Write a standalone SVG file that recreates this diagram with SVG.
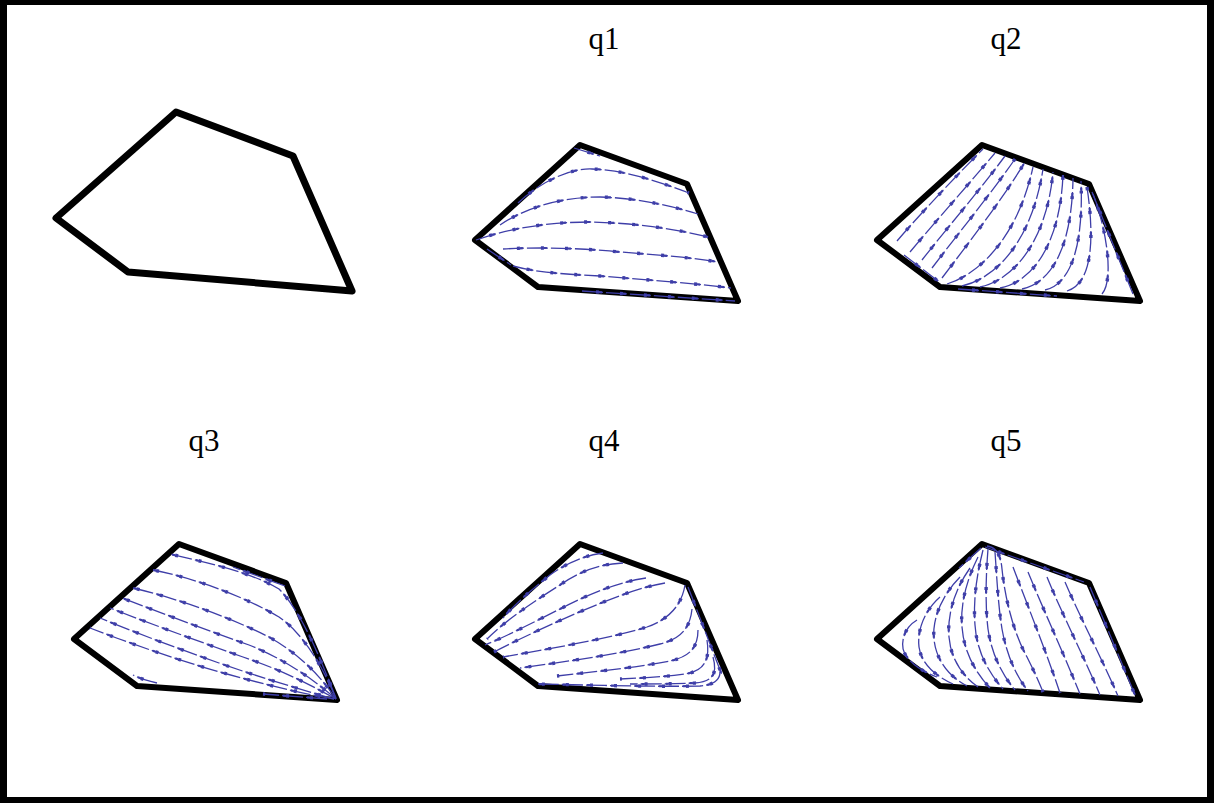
<svg xmlns="http://www.w3.org/2000/svg" width="1214" height="803" viewBox="0 0 1214 803">
<style>
.frame{fill:#000}
.bg{fill:#fff}
.poly{fill:#fff;stroke:#000;stroke-width:6;stroke-linejoin:round}
.poly0{fill:#fff;stroke:#000;stroke-width:7;stroke-linejoin:round}
.sl{fill:none;stroke:#3e3ea8;stroke-width:1.3;stroke-dasharray:21 3}
.a1{fill:none;stroke:#3e3ea8;stroke-width:3.4;stroke-dasharray:3 21;stroke-dashoffset:-14}
.a2{fill:none;stroke:#3e3ea8;stroke-width:2.2;stroke-dasharray:3 21;stroke-dashoffset:-17}
.lbl{font-family:"Liberation Serif","Times New Roman",serif;font-size:31px;fill:#000;text-anchor:middle}
</style>
<defs>
<polygon id="shape" class="poly" points="580,145 687,184 738,301 538,287 475,240"/>
<g id="f1">
<path d="M574,148 L600,156"/>
<path d="M518,203 C540,182 570,168 592,169 C625,170 660,182 689,193"/>
<path d="M500,225 C525,208 560,197 600,197 C640,198 675,207 698,214"/>
<path d="M476,240 C510,228 550,222 590,222 C640,223 680,230 708,237"/>
<path d="M503,249 C540,247 580,248 620,252 C660,255 695,258 718,262"/>
<path d="M513,266 C535,272 560,274 600,276 C650,280 700,284 731,288"/>
<path d="M582,291 L735,301"/>
<path d="M487,249 L511,265"/>
</g>
<g id="f2">
<path d="M495,241 C520,212 555,175 581,149"/>
<path d="M508,252 C533,222 566,185 593,153"/>
<path d="M520,260 C545,228 578,190 603,156"/>
<path d="M530,268 C555,235 588,195 613,159"/>
<path d="M540,278 C565,245 600,200 623,162"/>
<path d="M545,284 C575,275 615,240 631,167"/>
<path d="M560,286 C595,278 630,240 641,169"/>
<path d="M578,287 C612,280 645,240 651,172"/>
<path d="M598,288 C630,282 658,245 661,175"/>
<path d="M620,289 C648,283 670,250 671,178"/>
<path d="M643,290 C665,285 682,255 679,181"/>
<path d="M665,291 C685,285 695,255 685,187"/>
<path d="M700,294 C712,280 705,230 691,194"/>
<path d="M731,294 L690,192"/>
<path d="M556,289 L655,296"/>
<path d="M502,255 L536,281"/>
</g>
<g id="f3">
<path d="M737,299 C725,270 705,215 680,190 C650,172 600,162 571,155"/>
<path d="M737,300 C725,270 705,235 680,218 C650,200 600,180 554,171"/>
<path d="M737,300 C720,275 700,255 670,238 C630,218 580,200 534,189"/>
<path d="M737,300 C720,285 690,262 650,246 C610,232 565,215 523,199"/>
<path d="M737,300 C710,285 680,270 644,258 C610,246 560,228 511,209"/>
<path d="M735,300 C700,290 660,278 620,264 C580,250 540,235 501,219"/>
<path d="M735,300 C700,294 660,284 628,275 C595,266 540,248 491,229"/>
<path d="M558,284 C550,282 542,280 534,276"/>
<path d="M728,300 L664,295"/>
<path d="M686,187 L634,168"/>
</g>
<g id="f4">
<path d="M603,154 C585,156 565,165 550,176 C530,192 515,205 503,219"/>
<path d="M623,164 C600,165 580,172 560,186 C530,205 505,222 487,240"/>
<path d="M646,179 C620,183 595,192 560,210 C530,225 505,238 485,246"/>
<path d="M665,184 C640,188 610,200 577,214 C545,228 515,242 494,253"/>
<path d="M685,186 C682,205 670,220 647,228 C615,238 560,248 503,258"/>
<path d="M692,210 C690,230 680,240 660,245 C620,255 570,262 520,269"/>
<path d="M698,231 C698,250 688,258 670,262 C640,268 600,272 557,277"/>
<path d="M707,241 C710,260 705,272 685,275 C665,278 640,279 620,280"/>
<path d="M713,258 C718,275 712,283 695,284 C670,285 650,285 630,285"/>
<path d="M720,273 C720,282 712,286 700,287 C650,288 590,286 537,285"/>
<path d="M688,188 L722,276"/>
</g>
<g id="f5">
<path d="M515,221 C500,230 497,248 505,258 C512,267 522,273 535,278"/>
<path d="M538,198 C522,212 515,232 517,248 C519,265 535,278 551,285"/>
<path d="M558,178 C540,196 530,220 532,240 C534,262 548,278 565,287"/>
<path d="M568,169 C553,190 545,215 547,238 C549,262 562,278 576,288"/>
<path d="M576,158 C565,180 558,205 560,228 C562,255 575,275 588,289"/>
<path d="M581,151 C575,175 571,200 573,226 C575,255 588,275 601,290"/>
<path d="M586,150 C584,175 583,205 586,230 C590,258 602,278 613,291"/>
<path d="M593,153 C595,180 596,205 600,230 C605,258 615,278 626,292"/>
<path d="M585,147 C595,148 599,158 600,170 C603,200 612,235 625,258 C632,272 637,283 641,293"/>
<path d="M611,168 C625,205 645,255 658,294"/>
<path d="M626,173 C642,212 663,258 678,295"/>
<path d="M645,178 C660,215 682,258 698,296"/>
<path d="M663,183 C678,218 700,260 716,297"/>
<path d="M688,188 L733,296"/>
<path d="M583,148 L682,183"/>
<path d="M579,149 L557,169"/>
</g>
</defs>
<rect class="frame" x="0" y="0" width="1214" height="803"/>
<rect class="bg" x="7" y="5" width="1200" height="792"/>
<g id="panel-domain">
<polygon class="poly0" points="176,112 293,156 352,291 128,272 56,218"/>
</g>
<g id="panel-q1">
<text class="lbl" x="604" y="49">q1</text>
<use href="#shape"/>
<g id="streamlines-q1"><use href="#f1" class="sl"/><use href="#f1" class="a1"/><use href="#f1" class="a2"/></g>
</g>
<g id="panel-q2">
<text class="lbl" x="1006" y="49">q2</text>
<g transform="translate(402,0)">
<use href="#shape"/>
<g id="streamlines-q2"><use href="#f2" class="sl"/><use href="#f2" class="a1"/><use href="#f2" class="a2"/></g>
</g>
</g>
<g id="panel-q3">
<text class="lbl" x="204" y="451">q3</text>
<g transform="translate(-401,399)">
<use href="#shape"/>
<g id="streamlines-q3"><use href="#f3" class="sl"/><use href="#f3" class="a1"/><use href="#f3" class="a2"/></g>
</g>
</g>
<g id="panel-q4">
<text class="lbl" x="604" y="451">q4</text>
<g transform="translate(0,399)">
<use href="#shape"/>
<g id="streamlines-q4"><use href="#f4" class="sl"/><use href="#f4" class="a1"/><use href="#f4" class="a2"/></g>
</g>
</g>
<g id="panel-q5">
<text class="lbl" x="1006" y="451">q5</text>
<g transform="translate(402,399)">
<use href="#shape"/>
<g id="streamlines-q5"><use href="#f5" class="sl"/><use href="#f5" class="a1"/><use href="#f5" class="a2"/></g>
</g>
</g>
</svg>
